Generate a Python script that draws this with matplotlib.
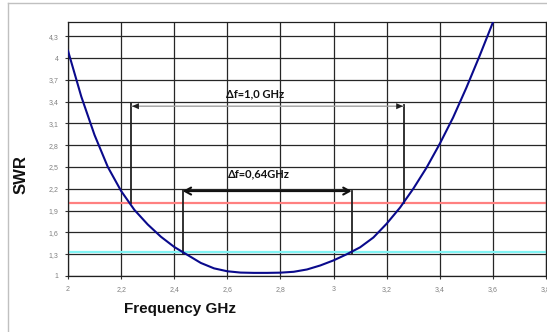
import matplotlib
matplotlib.use("Agg")
import matplotlib.pyplot as plt
from matplotlib.lines import Line2D

# SWR sweep of the antenna
freq = [2.00, 2.05, 2.10, 2.15, 2.20, 2.25, 2.30, 2.35, 2.40, 2.45,
        2.50, 2.55, 2.60, 2.65, 2.70, 2.75, 2.80, 2.85, 2.90, 2.95,
        3.00, 3.05, 3.10, 3.15, 3.20, 3.25, 3.30, 3.35, 3.40, 3.45,
        3.50, 3.55, 3.60]
swr = [4.10, 3.47, 2.94, 2.50, 2.17, 1.91, 1.71, 1.54, 1.40, 1.29,
       1.18, 1.105, 1.065, 1.047, 1.043, 1.043, 1.046, 1.058, 1.09, 1.145,
       1.215, 1.30, 1.395, 1.53, 1.72, 1.94, 2.20, 2.49, 2.82, 3.18,
       3.59, 4.03, 4.49]

# reference levels
swr_limit_high = 2.0
swr_limit_low = 1.335

# band edges at each level
band_wide = [2.236, 3.265]
band_narrow = [2.432, 3.068]
label_wide = "\u0394f=1,0 GHz"
label_narrow = "\u0394f=0,64GHz"

x_ticks = [2.0, 2.2, 2.4, 2.6, 2.8, 3.0, 3.2, 3.4, 3.6, 3.8]
x_tick_labels = ["2", "2,2", "2,4", "2,6", "2,8", "3", "3,2", "3,4", "3,6", "3,8"]
y_ticks = [1.0, 1.3, 1.6, 1.9, 2.2, 2.5, 2.8, 3.1, 3.4, 3.7, 4.0, 4.3]
y_tick_labels = ["1", "1,3", "1,6", "1,9", "2,2", "2,5", "2,8", "3,1", "3,4",
                 "3,7", "4", "4,3"]

plt.rcParams["font.family"] = ["Liberation Sans", "DejaVu Sans"]

W, H = 547, 332
fig = plt.figure(figsize=(W / 100, H / 100), dpi=100)
fig.patch.set_facecolor("white")

# outer chart frame
fig.add_artist(Line2D([8 / W, 8 / W], [0, 1 - 3 / H], transform=fig.transFigure,
                      color="#c0c0c0", lw=1.0))
fig.add_artist(Line2D([8 / W, 1], [1 - 3 / H, 1 - 3 / H], transform=fig.transFigure,
                      color="#c0c0c0", lw=1.0))

ax = fig.add_axes([68 / W, 1 - 276 / H, (546 - 68) / W, (276 - 21.7) / H])
ax.set_xlim(2.0, 3.8)
ax.set_ylim(1.0, 4.5)

ax.set_xticks(x_ticks)
ax.set_xticklabels(x_tick_labels)
ax.set_yticks(y_ticks)
ax.set_yticklabels(y_tick_labels)
ax.tick_params(axis="both", length=2, width=0.8, color="#333333",
               labelsize=5, labelcolor="#808080", pad=5)
ax.grid(True, color="#262626", lw=0.9)
ax.set_axisbelow(True)
for s in ax.spines.values():
    s.set_color("#202020")
    s.set_linewidth(0.9)

ax.axhline(swr_limit_high, color="#ff8080", lw=1.6, zorder=2)
ax.axhline(swr_limit_low, color="#80f4f4", lw=1.6, zorder=2)

ax.plot(freq, swr, color="#0a0a8c", lw=1.5, zorder=4)

# wide band (SWR 2) markers
ax.plot([band_wide[0], band_wide[0]], [swr_limit_high, 3.38], color="#222222", lw=1.3, zorder=3)
ax.plot([band_wide[1], band_wide[1]], [swr_limit_high, 3.35], color="#222222", lw=1.3, zorder=3)
ax.annotate("", xy=(band_wide[0] + 0.005, 3.337), xytext=(band_wide[1] - 0.003, 3.337),
            arrowprops=dict(arrowstyle="-", color="#a0a0a0", lw=1.0,
                            shrinkA=0, shrinkB=0), zorder=3)
for xe, d in [(band_wide[0] + 0.005, 1), (band_wide[1] - 0.003, -1)]:
    ax.annotate("", xy=(xe, 3.337), xytext=(xe + d * 0.04, 3.337),
                arrowprops=dict(arrowstyle="-|>,head_length=0.5,head_width=0.22",
                                color="#202020", lw=0.0, shrinkA=0, shrinkB=0), zorder=3)
ax.text(2.705, 3.51, label_wide, ha="center", va="center", fontsize=8,
        fontweight="bold", color="#111111", family=["Lato", "DejaVu Sans"])

# narrow band (SWR 1.33) markers
ax.plot([band_narrow[0], band_narrow[0]], [1.30, 2.18], color="#222222", lw=1.3, zorder=3)
ax.plot([band_narrow[1], band_narrow[1]], [1.30, 2.175], color="#222222", lw=1.3, zorder=3)
ax.annotate("", xy=(band_narrow[0], 2.169), xytext=(band_narrow[1], 2.169),
            arrowprops=dict(arrowstyle="<->,head_length=0.45,head_width=0.25",
                            color="#111111", lw=1.5, shrinkA=0, shrinkB=0), zorder=3)
ax.text(2.718, 2.41, label_narrow, ha="center", va="center", fontsize=8,
        fontweight="bold", color="#111111", family=["Lato", "DejaVu Sans"])

fig.text(180 / W, 1 - 309 / H, "Frequency GHz", ha="center", va="center",
         fontsize=11, fontweight="bold", color="#111111")
fig.text(21.5 / W, 1 - 175 / H, "SWR", ha="center", va="center", rotation=90,
         fontsize=12, fontweight="bold", color="#111111")

fig.savefig("out.png", dpi=100)
